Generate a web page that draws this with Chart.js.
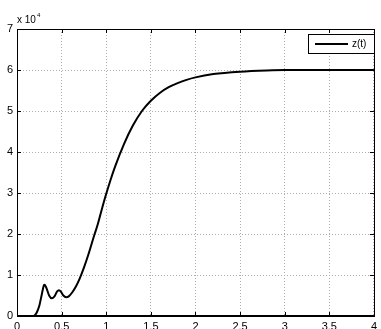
<!DOCTYPE html>
<html>
<head>
<meta charset="utf-8">
<script src="https://cdn.jsdelivr.net/npm/chart.js@4/dist/chart.umd.min.js"></script>
<style>
  html, body { margin: 0; padding: 0; background: #fff; }
  #wrap { width: 381px; height: 329px; }
</style>
</head>
<body>
<div id="wrap"><canvas id="zChart" width="381" height="329"></canvas></div>
<script>
// ── Data (z in raw units) ────────────────────────────────────────────────
const timeValues = [0, 0.1, 0.18, 0.2, 0.22, 0.25, 0.28, 0.3, 0.31, 0.33, 0.36, 0.39, 0.42, 0.45,
    0.47, 0.49, 0.52, 0.55, 0.58, 0.62, 0.66, 0.7, 0.75, 0.8, 0.87, 0.9, 0.95, 1.0, 1.05, 1.1,
    1.2, 1.3, 1.4, 1.5, 1.6, 1.7, 1.8, 1.9, 2.0, 2.2, 2.5, 2.8, 3.0, 3.5, 4.0];
const zValues = [0, 0, 0, 200, 800, 2500, 5500, 7400, 7600, 6800, 5000, 4300, 4800, 6000,
    6300, 6000, 5000, 4600, 4800, 5800, 7200, 9000, 11800, 15000, 20000, 22000, 26000, 29800, 33300, 36500,
    42000, 46500, 50000, 52500, 54400, 55800, 56800, 57600, 58200, 59000, 59600, 59900, 60000, 60000, 60000];
const xTicks = [0, 0.5, 1, 1.5, 2, 2.5, 3, 3.5, 4];
const yTicks = [0, 10000, 20000, 30000, 40000, 50000, 60000, 70000];
const seriesLabel = 'z(t)';

const FONT = 'Liberation Sans, Arial, sans-serif';

// ── Box, inward ticks, exponent and legend (MATLAB look) ─────────────────
const matlabFrame = {
    id: 'matlabFrame',
    afterDraw(chart) {
        const { ctx, chartArea: a, scales: { x, y } } = chart;
        ctx.save();
        ctx.strokeStyle = '#000';
        ctx.lineWidth = 1;
        // inward tick marks
        ctx.beginPath();
        xTicks.forEach(function (v) {
            const px = Math.round(x.getPixelForValue(v)) + 0.5;
            ctx.moveTo(px, a.bottom); ctx.lineTo(px, a.bottom - 4);
            ctx.moveTo(px, a.top);    ctx.lineTo(px, a.top + 4);
        });
        yTicks.forEach(function (v) {
            const py = Math.round(y.getPixelForValue(v)) + 0.5;
            ctx.moveTo(a.left, py);  ctx.lineTo(a.left + 4, py);
            ctx.moveTo(a.right, py); ctx.lineTo(a.right - 4, py);
        });
        ctx.stroke();
        // box
        ctx.strokeRect(Math.round(a.left) + 0.5, Math.round(a.top) + 0.5,
            Math.round(a.right - a.left), Math.round(a.bottom - a.top));
        ctx.lineWidth = 2;
        ctx.beginPath();
        ctx.moveTo(a.left, Math.round(a.bottom));
        ctx.lineTo(a.right, Math.round(a.bottom));
        ctx.stroke();

        // exponent label
        ctx.fillStyle = '#000';
        ctx.textBaseline = 'alphabetic';
        ctx.textAlign = 'left';
        ctx.font = '10px ' + FONT;
        ctx.fillText('x 10', a.left, a.top - 6);
        const w = ctx.measureText('x 10').width;
        ctx.font = '6px ' + FONT;
        ctx.fillText('4', a.left + w + 1, a.top - 12);

        // legend
        const lx = 308, ly = 34, lw = 66, lh = 19;
        ctx.fillStyle = '#fff';
        ctx.fillRect(lx, ly, lw, lh);
        ctx.lineWidth = 1;
        ctx.strokeRect(lx + 0.5, ly + 0.5, lw, lh);
        ctx.lineWidth = 2;
        ctx.beginPath();
        ctx.moveTo(lx + 7, ly + 10);
        ctx.lineTo(lx + 40, ly + 10);
        ctx.stroke();
        ctx.fillStyle = '#000';
        ctx.font = '10px ' + FONT;
        ctx.textBaseline = 'middle';
        ctx.fillText(seriesLabel, lx + 44, ly + 10);
        ctx.restore();
    }
};

new Chart(document.getElementById('zChart'), {
    type: 'line',
    data: {
        datasets: [{
            label: seriesLabel,
            data: timeValues.map((t, i) => ({ x: t, y: zValues[i] })),
            borderColor: '#000',
            borderWidth: 2,
            pointRadius: 0,
            cubicInterpolationMode: 'monotone',
            fill: false
        }]
    },
    options: {
        responsive: false,
        animation: false,
        layout: { padding: { top: 29, right: 4, left: 0, bottom: 0 } },
        plugins: { legend: { display: false }, tooltip: { enabled: false } },
        scales: {
            x: {
                type: 'linear',
                min: 0, max: 4,
                afterBuildTicks: s => { s.ticks = xTicks.map(v => ({ value: v })); },
                afterFit: s => { s.height = 13; },
                ticks: {
                    autoSkip: false, maxRotation: 0, padding: 4,
                    color: '#000', font: { family: FONT, size: 11 },
                    callback: v => String(v)
                },
                grid: { color: '#adadad', lineWidth: 1, drawTicks: false },
                border: { display: false, dash: [1, 2] }
            },
            y: {
                type: 'linear',
                min: 0, max: 70000,
                afterBuildTicks: s => { s.ticks = yTicks.map(v => ({ value: v })); },
                afterFit: s => { s.width = 17; },
                ticks: {
                    padding: 4,
                    color: '#000', font: { family: FONT, size: 11 },
                    callback: v => String(v / 10000)
                },
                grid: { color: '#adadad', lineWidth: 1, drawTicks: false },
                border: { display: false, dash: [1, 2] }
            }
        }
    },
    plugins: [matlabFrame]
});
</script>
</body>
</html>
